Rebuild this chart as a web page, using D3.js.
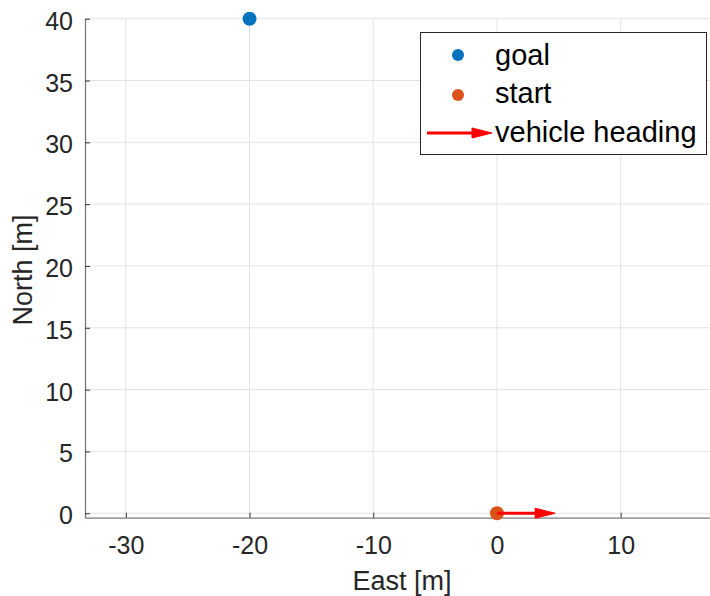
<!DOCTYPE html>
<html>
<head>
<meta charset="utf-8">
<script src="https://cdn.jsdelivr.net/npm/d3@7"></script>
<style>
  body { margin: 0; background: #fff; }
  svg { display: block; font-family: "Liberation Sans", Arial, sans-serif; }
</style>
</head>
<body>
<div class="chart"></div>
<script>
// data
var goal = [-20, 40]
var start = [0, 0]
var heading = [4.7, 0]   // quiver vector (east, north)
var xTicks = [-30, -20, -10, 0, 10]
var yTicks = [0, 5, 10, 15, 20, 25, 30, 35, 40]
var legendLabels = ["goal", "start", "vehicle heading"]

var width = 710, height = 596
var blue = "#0072BD", orange = "#D95319"

var svg = d3.select(".chart").append("svg")
  .attr("width", width)
  .attr("height", height)

var x = d3.scaleLinear().domain([-33.3, 17.3]).range([85, 711])
var y = d3.scaleLinear().domain([-0.36, 40]).range([517.7, 18.7])

// grid
var grid = svg.append("g")
grid.selectAll(".gx").data(xTicks).join("line")
  .attr("x1", d => x(d)).attr("x2", d => x(d))
  .attr("y1", y.range()[1]).attr("y2", y.range()[0])
  .attr("stroke", "#e3e3e3").attr("stroke-width", 1)
grid.selectAll(".gy").data(yTicks).join("line")
  .attr("x1", x.range()[0]).attr("x2", x.range()[1])
  .attr("y1", d => y(d)).attr("y2", d => y(d))
  .attr("stroke", "#e3e3e3").attr("stroke-width", 1)

// axes
var axColor = "#7a7a7a"
var fmt = d => String(d)   // plain hyphen minus, like MATLAB
var gx = svg.append("g").attr("transform", `translate(0,${y.range()[0]})`)
  .call(d3.axisBottom(x).tickValues(xTicks).tickFormat(fmt).tickSizeInner(-5).tickSizeOuter(0).tickPadding(19))
gx.select(".domain").attr("stroke", axColor).attr("stroke-width", 1.3)
gx.selectAll(".tick line").attr("stroke", "#333")
gx.selectAll("text").attr("font-size", 25).attr("fill", "#262626")
  .attr("font-family", "Liberation Sans, Arial, sans-serif")

var gy = svg.append("g").attr("transform", `translate(${x.range()[0]},0)`)
  .call(d3.axisLeft(y).tickValues(yTicks).tickFormat(fmt).tickSizeInner(-5).tickSizeOuter(0).tickPadding(12))
gy.select(".domain").attr("stroke", axColor).attr("stroke-width", 1.3)
gy.selectAll(".tick line").attr("stroke", "#333")
gy.selectAll("text").attr("font-size", 25).attr("fill", "#262626")
  .attr("font-family", "Liberation Sans, Arial, sans-serif")
  .attr("dy", "0.42em")

// axis labels
svg.append("text").attr("x", 402).attr("y", 590)
  .attr("text-anchor", "middle").attr("font-size", 27).attr("fill", "#262626")
  .text("East [m]")
svg.append("text").attr("transform", "translate(32,270) rotate(-90)")
  .attr("text-anchor", "middle").attr("font-size", 27).attr("fill", "#262626")
  .text("North [m]")

// arrow helper (quiver style)
function arrow(g, x0, y0, x1, y1) {
  var ang = Math.atan2(y1 - y0, x1 - x0)
  var hl = 20, hw = 5
  var bx = x1 - hl * Math.cos(ang), by = y1 - hl * Math.sin(ang)
  g.append("line").attr("x1", x0).attr("y1", y0).attr("x2", bx + 2 * Math.cos(ang)).attr("y2", by + 2 * Math.sin(ang))
    .attr("stroke", "red").attr("stroke-width", 3)
  g.append("path")
    .attr("d", `M${x1},${y1}L${bx - hw * Math.sin(ang)},${by + hw * Math.cos(ang)}L${bx + hw * Math.sin(ang)},${by - hw * Math.cos(ang)}Z`)
    .attr("fill", "red").attr("stroke", "red").attr("stroke-width", 1)
}

// marks
svg.append("circle").attr("cx", x(goal[0])).attr("cy", y(goal[1])).attr("r", 7).attr("fill", blue)
svg.append("circle").attr("cx", x(start[0])).attr("cy", y(start[1])).attr("r", 7).attr("fill", orange)
arrow(svg.append("g"), x(start[0]), y(start[1]), x(start[0] + heading[0]), y(start[1] + heading[1]))

// legend
var lg = svg.append("g")
lg.append("rect").attr("x", 420.5).attr("y", 32.5).attr("width", 286).attr("height", 122)
  .attr("fill", "#fff").attr("stroke", "#262626").attr("stroke-width", 1)
var rowsY = [55, 95, 133]
var baseY = [65, 103, 142]
lg.append("circle").attr("cx", 458).attr("cy", rowsY[0]).attr("r", 6).attr("fill", blue)
lg.append("circle").attr("cx", 458).attr("cy", rowsY[1]).attr("r", 6).attr("fill", orange)
arrow(lg, 427, rowsY[2], 492, rowsY[2])
lg.selectAll(".lt").data(legendLabels).join("text")
  .attr("x", 495).attr("y", (d, i) => baseY[i])
  .attr("font-size", 29).attr("fill", "#000")
  .text(d => d)
</script>
</body>
</html>
